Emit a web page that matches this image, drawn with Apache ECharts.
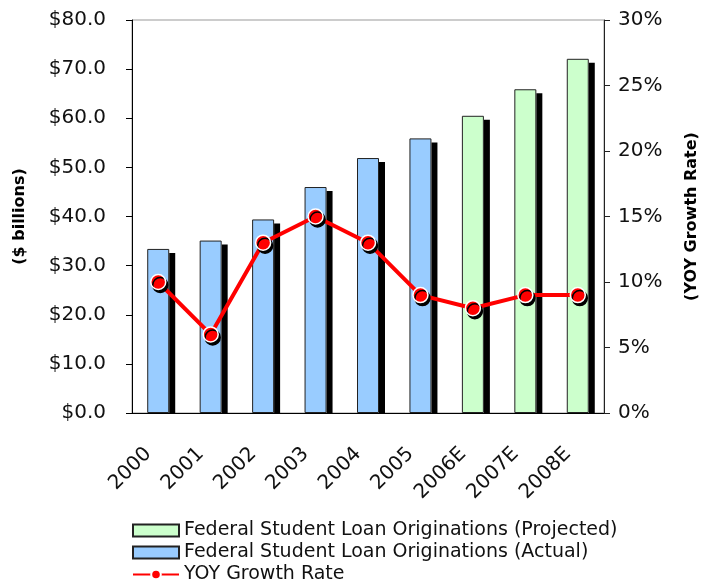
<!DOCTYPE html>
<html>
<head>
<meta charset="utf-8">
<script src="https://cdn.jsdelivr.net/npm/echarts@6/dist/echarts.min.js"></script>
<style>
  html, body { margin: 0; padding: 0; background: #fff; }
  #chart { width: 709px; height: 583px; }
</style>
</head>
<body>
<div id="chart"></div>
<script>
// Federal student loan originations ($ billions) and year-over-year growth
const categories = ['2000', '2001', '2002', '2003', '2004', '2005', '2006E', '2007E', '2008E'];
const actualValues = [33.4, 35.1, 39.4, 46.0, 51.9, 55.9, null, null, null];
const projectedValues = [null, null, null, null, null, null, 60.5, 65.9, 72.1];
const growthRates = [10, 6, 13, 15, 13, 9, 8, 9, 9];

const FONT = '"DejaVu Sans", Arial, sans-serif';
const BAR_WIDTH = 22;

// one [index, value] pair per category, used for the drop shadow behind each bar
const shadowData = categories.map(function (c, i) {
  const v = actualValues[i] != null ? actualValues[i] : projectedValues[i];
  return [i, v];
});

const chart = echarts.init(document.getElementById('chart'));

const barStyle = function (fill) {
  return { color: fill, borderColor: '#222', borderWidth: 1 };
};

chart.setOption({
  animation: false,
  backgroundColor: '#fff',
  grid: {
    left: 132, right: 105, top: 20, bottom: 170,
    show: true, borderColor: '#999', borderWidth: 1, backgroundColor: 'transparent'
  },
  legend: {
    orient: 'vertical',
    left: 127,
    top: 516,
    height: 70,
    itemWidth: 46,
    itemHeight: 12,
    itemGap: 3,
    data: [
      { name: 'Federal Student Loan Originations (Projected)', icon: 'rect' },
      { name: 'Federal Student Loan Originations (Actual)', icon: 'rect' },
      { name: 'YOY Growth Rate' }
    ],
    textStyle: { fontFamily: FONT, fontSize: 19, color: '#111', lineHeight: 18 }
  },
  xAxis: {
    type: 'category',
    data: categories,
    axisLine: { lineStyle: { color: '#000', width: 1 } },
    axisTick: { length: 6, lineStyle: { color: '#000' } },
    axisLabel: {
      rotate: 45, margin: 28, padding: [0, 14, 0, 0],
      fontFamily: FONT, fontSize: 20, color: '#111'
    }
  },
  yAxis: [
    {
      type: 'value',
      min: 0, max: 80, interval: 10,
      name: '($ billions)',
      nameLocation: 'middle',
      nameRotate: 90,
      nameGap: 104,
      nameTextStyle: { fontFamily: FONT, fontSize: 16, fontWeight: 'bold', color: '#000' },
      axisLine: { show: true, lineStyle: { color: '#000' } },
      axisTick: { show: true, length: 6, lineStyle: { color: '#000' } },
      splitLine: { show: false },
      axisLabel: {
        margin: 26, fontFamily: FONT, fontSize: 20, color: '#111',
        formatter: function (v) { return '$' + v.toFixed(1); }
      }
    },
    {
      type: 'value',
      min: 0, max: 30, interval: 5,
      position: 'right',
      name: '(YOY Growth Rate)',
      nameLocation: 'middle',
      nameRotate: 90,
      nameGap: 80,
      nameTextStyle: { fontFamily: FONT, fontSize: 16, fontWeight: 'bold', color: '#000' },
      axisLine: { show: true, lineStyle: { color: '#222' } },
      axisTick: { show: true, length: 6, lineStyle: { color: '#222' } },
      splitLine: { show: false },
      axisLabel: {
        margin: 14, fontFamily: FONT, fontSize: 20, color: '#111',
        formatter: function (v) { return v + '%'; }
      }
    }
  ],
  series: [
    {
      name: 'barShadow',
      type: 'custom',
      data: shadowData,
      encode: { x: 0, y: 1 },
      z: 1,
      silent: true,
      renderItem: function (params, api) {
        const top = api.coord([api.value(0), api.value(1)]);
        const base = api.coord([api.value(0), 0]);
        return {
          type: 'rect',
          shape: {
            x: top[0] + BAR_WIDTH / 2,
            y: top[1] + 4,
            width: 6,
            height: base[1] - top[1] - 4
          },
          style: { fill: '#000' }
        };
      }
    },
    {
      name: 'Federal Student Loan Originations (Actual)',
      type: 'bar',
      data: actualValues,
      barWidth: BAR_WIDTH,
      barGap: '-100%',
      z: 2,
      itemStyle: barStyle('#99CCFF')
    },
    {
      name: 'Federal Student Loan Originations (Projected)',
      type: 'bar',
      data: projectedValues,
      barWidth: BAR_WIDTH,
      barGap: '-100%',
      z: 2,
      itemStyle: barStyle('#CCFFCC')
    },
    {
      name: 'YOY Growth Rate',
      type: 'line',
      yAxisIndex: 1,
      data: growthRates,
      symbol: 'circle',
      symbolSize: 15,
      lineStyle: { color: '#FF0000', width: 4 },
      itemStyle: {
        color: '#FF0000',
        borderColor: '#fff',
        borderWidth: 1.5,
        shadowColor: '#000',
        shadowBlur: 0,
        shadowOffsetX: 2,
        shadowOffsetY: 3
      },
      z: 5
    }
  ]
});
</script>
</body>
</html>
